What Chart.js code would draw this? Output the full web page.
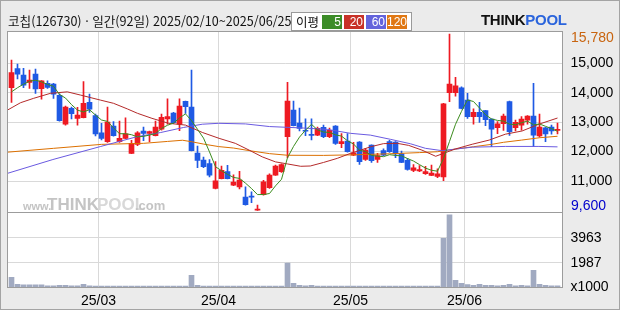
<!DOCTYPE html>
<html lang="ko">
<head>
<meta charset="utf-8">
<title>코칩 일간 차트</title>
<script src="https://cdn.jsdelivr.net/npm/chart.js@4.4.1/dist/chart.umd.min.js"></script>
<style>
    body { margin: 0; background: #ebebeb; }
    #wrap { position: relative; width: 620px; height: 310px; overflow: hidden; background: #ebebeb; }
    #chart { position: absolute; left: 0; top: 0; }
    #frame { position: absolute; left: 0; top: 0; width: 620px; height: 310px; box-sizing: border-box; border: 1px solid #a4a4a4; }
    #title { position: absolute; left: 8px; top: 13px; font: 12.6px "Noto Sans CJK KR", sans-serif; line-height: 16px; color: #111; white-space: nowrap; }
    #legend { position: absolute; left: 291px; top: 12px; width: 121px; height: 19px; box-sizing: border-box; border: 1px solid #9a9a9a; background: #fff; }
    #legend .label { position: absolute; left: 4px; top: 0; font: 12.5px "Noto Sans CJK KR", sans-serif; line-height: 17px; color: #111; }
    #legend .ma { position: absolute; top: 2px; width: 20px; height: 14px; box-sizing: border-box; padding-right: 1px; text-align: right; color: #fff; font: 12px "Liberation Sans", sans-serif; line-height: 14px; }
    #logo { position: absolute; left: 481px; top: 12px; font: bold 15px "Liberation Sans", sans-serif; letter-spacing: -0.3px; line-height: 16px; }
    #logo .think { color: #111; }
    #logo .pool { color: #2a64dc; }
</style>
</head>
<body>
<div id="wrap">
    <canvas id="chart" width="620" height="310"></canvas>
    <div id="title">코칩(126730) · 일간(92일) 2025/02/10~2025/06/25</div>
    <div id="legend">
        <span class="label">이평</span>
        <span class="ma" style="left:30px;background:#3c8c28">5</span>
        <span class="ma" style="left:52px;background:#c83228">20</span>
        <span class="ma" style="left:74px;background:#6464dc">60</span>
        <span class="ma" style="left:95px;background:#e07814">120</span>
    </div>
    <div id="logo"><span class="think">THINK</span><span class="pool">POOL</span></div>
    <div id="frame"></div>
</div>
<script>
// daily candles, index 0 = 2025/02/10, index 91 = 2025/06/25
const opens = [
    14170, 14820, 14600, 14350, 14630, 14140, 14320, 14290, 13910, 12930,
    13470, 13130, 13150, 13670, 13220, 12640, 12340, 12870, 12340, 12450,
    11940, 12240, 12700, 12620, 12540, 12760, 13110, 13310, 12930, 13710,
    13510, 11950, 11710, 11590, 10750, 11080, 11320, 10860, 10800, 10450,
    10480, 10010, 10540, 10770, 11200, 11320, 12510, 13410, 12970, 12720,
    12560, 12560, 12820, 12510, 12870, 12270, 12360, 11880, 12320, 11730,
    12220, 11730, 12030, 12340, 12320, 11920, 11700, 11360, 11340, 11250,
    11190, 11160, 11140, 14000, 14000, 14170, 13750, 13190, 13330, 13390,
    13100, 12810, 12950, 13700, 12810, 12900, 13070, 13210, 12530, 12810,
    12830, 12720
];
const highs = [
    15110, 14970, 14830, 14770, 14800, 14410, 14400, 14320, 13960, 13550,
    13510, 13500, 14380, 13950, 13270, 12960, 13510, 13020, 13040, 13150,
    12380, 12680, 12830, 12700, 13040, 13270, 13790, 13330, 13790, 13720,
    14770, 12190, 11810, 11730, 11660, 11510, 11530, 11210, 11330, 10800,
    10630, 10180, 11020, 11240, 11540, 11580, 14350, 13720, 13480, 13110,
    13110, 12830, 12900, 12800, 12880, 12610, 12610, 12310, 12340, 12110,
    12230, 11940, 12090, 12380, 12340, 12020, 11770, 11560, 11520, 11500,
    11540, 11410, 13640, 15990, 14520, 14200, 13980, 13450, 13670, 13400,
    13110, 13020, 13270, 13720, 13070, 13190, 13220, 14320, 13270, 12820,
    12900, 12970
];
const lows = [
    13670, 14470, 14170, 14150, 13980, 13780, 14150, 13810, 13030, 12900,
    13110, 12900, 13140, 13330, 12530, 12400, 12310, 12520, 12310, 12440,
    11930, 12200, 12370, 12340, 12530, 12730, 12930, 12950, 12710, 13300,
    12020, 11450, 11450, 11140, 10730, 11070, 11070, 10840, 10730, 10180,
    10260, 10000, 10520, 10750, 11190, 11290, 11790, 12870, 12700, 12540,
    12400, 12540, 12470, 12470, 12240, 12130, 11980, 11860, 11560, 11700,
    11630, 11630, 11860, 11970, 11790, 11620, 11370, 11320, 11320, 11220,
    11180, 11110, 11010, 13700, 13880, 13450, 13130, 12930, 12990, 12880,
    12170, 12610, 12720, 12550, 12700, 12730, 12930, 12170, 12490, 12340,
    12590, 12600
];
const closes = [
    14680, 14630, 14260, 14430, 14130, 14400, 14180, 13950, 13050, 13510,
    13290, 13240, 13640, 13440, 12600, 12450, 13000, 12540, 12450, 12600,
    12280, 12640, 12620, 12680, 12830, 13160, 13190, 12980, 13550, 13530,
    12030, 11700, 11490, 11200, 11010, 11360, 11080, 10960, 11030, 10200,
    10450, 10040, 10970, 11200, 11510, 11560, 13720, 12880, 12790, 12690,
    12550, 12790, 12510, 12720, 12280, 12340, 12000, 11960, 11660, 12050,
    11690, 11860, 11880, 12000, 11920, 11630, 11390, 11450, 11390, 11320,
    11270, 11240, 13620, 14290, 14230, 13470, 13190, 13330, 13190, 13080,
    12760, 12940, 13210, 12680, 12990, 13100, 13210, 12560, 12830, 12600,
    12700, 12740
];
// volume, x1000 shares
const volumes = [
    820, 260, 210, 210, 210, 210, 130, 130, 180, 180,
    130, 130, 260, 130, 110, 110, 110, 110, 110, 110,
    110, 110, 110, 110, 110, 110, 110, 110, 110, 110,
    980, 180, 110, 110, 110, 110, 110, 110, 110, 110,
    110, 110, 110, 110, 110, 110, 1950, 340, 180, 130,
    180, 110, 110, 110, 110, 110, 110, 110, 110, 110,
    110, 110, 110, 110, 110, 110, 110, 110, 110, 110,
    110, 110, 3940, 5820, 580, 340, 240, 180, 260, 180,
    180, 130, 180, 260, 130, 180, 130, 1370, 260, 180,
    130, 130
];
// moving averages as drawn on the chart
const ma5 = [
    14030, 14170, 14290, 14390, 14426, 14370, 14281, 14218, 13941, 13818,
    13596, 13408, 13347, 13424, 13240, 13072, 13025, 12805, 12607, 12607,
    12573, 12501, 12517, 12562, 12609, 12786, 12895, 12968, 13142, 13281,
    13054, 12757, 12458, 11988, 11485, 11351, 11226, 11122, 11088, 10927,
    10745, 10539, 10541, 10575, 10836, 11058, 11793, 12174, 12492, 12728,
    12925, 12739, 12664, 12651, 12569, 12526, 12367, 12258, 12045, 12000,
    11870, 11843, 11827, 11895, 11868, 11857, 11764, 11678, 11557, 11437,
    11365, 11333, 11766, 12344, 12927, 13367, 13757, 13701, 13481, 13252,
    13109, 13059, 13034, 12932, 12913, 12981, 13036, 12907, 12938, 12859,
    12780, 12687
];
const ma20 = [
    [-0.67, 13410], [1.5, 13660], [3.7, 13810], [6.5, 13980], [9.3, 14030], [11.5, 13920],
    [14.8, 13750], [17, 13640], [19.3, 13450], [21, 13300], [23.4, 13130], [26.2, 12960],
    [29, 12900], [31.8, 12650], [34.6, 12450], [37.3, 12280], [39.6, 12050], [41.8, 11820],
    [44, 11650], [46, 11580], [48.2, 11500], [49.8, 11510], [52, 11630], [54.3, 11770],
    [56.5, 11940], [58.2, 12050], [59.8, 12160], [62, 12270], [64.3, 12280], [66.2, 12210],
    [68.4, 12050], [70.7, 11840], [72, 11940], [74, 12090], [76.8, 12250], [79.6, 12390],
    [82.3, 12590], [85.1, 12700], [87.9, 12930], [91, 13140]
];
const ma60 = [
    [-0.67, 11260], [6.9, 11730], [14.8, 12170], [21, 12510], [24.8, 12645], [28.7, 12820],
    [31.8, 12930], [34.5, 12960], [39, 12940], [43, 12850], [48.7, 12800], [52.6, 12755],
    [56.5, 12620], [59.8, 12560], [63.2, 12415], [66.5, 12265], [69, 12110], [71.8, 12030],
    [74, 12085], [76.8, 12150], [82.3, 12175], [87.9, 12175], [91, 12160]
];
const ma120 = [
    [-0.67, 11980], [7, 12110], [15, 12245], [22, 12280], [26, 12345], [28.5, 12385],
    [30, 12335], [32, 12255], [34.5, 12170], [37, 12120], [40, 12020], [43, 11930],
    [46, 11875], [52, 11870], [57, 11890], [63, 11925], [68, 11965], [71, 11995],
    [74, 12085], [77, 12165], [80, 12245], [82, 12315], [85, 12390], [88, 12470], [91, 12520]
];
const monthStarts = [15, 35, 57, 76];
const monthLabels = ['25/03', '25/04', '25/05', '25/06'];
const priceTicks = [11000, 12000, 13000, 14000, 15000];
const volumeTicks = [0, 1987, 3963];
const priceHigh = 15780;
const priceLow = 9600;

const upColor = '#ee1a22';
const downColor = '#1f5ae4';
const gridColor = '#d9d9d9';
const tickFont = { family: "'Liberation Sans Narrow', 'Liberation Sans', sans-serif", size: 14 };

function candleColor(ctx) {
    const i = ctx.dataIndex;
    return closes[i] >= opens[i] ? upColor : downColor;
}

function toPoints(pairs) {
    return pairs.map(p => ({ x: p[0], y: p[1] }));
}

function maLine(data, color) {
    return {
        type: 'line', data: data, yAxisID: 'y', borderColor: color, borderWidth: 1,
        pointRadius: 0, tension: 0, fill: false, order: 0
    };
}

// white panes, watermark, pane frames and the max/min labels
const panePlugin = {
    id: 'panes',
    beforeDraw(chart) {
        const { ctx, chartArea } = chart;
        ctx.save();
        ctx.fillStyle = '#ffffff';
        ctx.fillRect(chartArea.left, chartArea.top, chartArea.width, chartArea.height);
        ctx.restore();
    },
    beforeDatasetsDraw(chart) {
        const ctx = chart.ctx;
        const base = chart.scales.y.bottom - 2.5;
        ctx.save();
        ctx.textBaseline = 'alphabetic';
        ctx.fillStyle = '#c4c4c4';
        ctx.font = 'bold 11px "Liberation Sans"';
        ctx.fillText('www.', 23, base);
        ctx.font = 'bold 17px "Liberation Sans Narrow", "Liberation Sans"';
        ctx.fillText('THINK', 47, base);
        ctx.fillStyle = '#d8d8d8';
        ctx.fillText('POOL', 97, base);
        ctx.fillStyle = '#c4c4c4';
        ctx.font = 'bold 13px "Liberation Sans"';
        ctx.fillText('.com', 135, base);
        ctx.restore();
    },
    afterDraw(chart) {
        const { ctx, chartArea } = chart;
        const y = chart.scales.y;
        const split = chart.scales.yv.top;
        ctx.save();
        ctx.strokeStyle = '#9c9c9c';
        ctx.lineWidth = 1;
        ctx.strokeRect(chartArea.left, chartArea.top, chartArea.width, split - chartArea.top);
        ctx.strokeRect(chartArea.left, split, chartArea.width, chartArea.bottom - split);

        ctx.font = "14px 'Liberation Sans Narrow', 'Liberation Sans', sans-serif";
        ctx.textAlign = 'left';
        ctx.textBaseline = 'middle';
        ctx.fillStyle = '#c8640f';
        ctx.fillText(priceHigh.toLocaleString('en-US'), y.right - 49, y.getPixelForValue(priceHigh) - 2);
        ctx.fillStyle = '#0000cc';
        ctx.fillText(priceLow.toLocaleString('en-US'), y.right - 49, y.bottom - 6);
        ctx.restore();
    }
};

function drawChart() {
    const ctx = document.getElementById('chart').getContext('2d');
    new Chart(ctx, {
        type: 'bar',
        data: {
            datasets: [
                maLine(ma5.map((v, i) => ({ x: i, y: v })), '#3c8c1e'),
                maLine(toPoints(ma20), '#b42a2a'),
                maLine(toPoints(ma60), '#6a5ae0'),
                maLine(toPoints(ma120), '#dc7000'),
                {
                    // candle bodies
                    data: opens.map((o, i) => ({ x: i, y: [o, closes[i]] })),
                    yAxisID: 'y', backgroundColor: candleColor, grouped: false,
                    barThickness: 5, maxBarThickness: 5, minBarLength: 1, order: 1
                },
                {
                    // wicks
                    data: lows.map((l, i) => ({ x: i, y: [l, highs[i]] })),
                    yAxisID: 'y', backgroundColor: candleColor, grouped: false,
                    barThickness: 1, maxBarThickness: 1, minBarLength: 1, order: 2
                },
                {
                    data: volumes.map((v, i) => ({ x: i, y: v })),
                    yAxisID: 'yv', backgroundColor: '#a1aac1', grouped: false,
                    barThickness: 5, maxBarThickness: 5, order: 3
                }
            ]
        },
        options: {
            responsive: false,
            animation: false,
            events: [],
            layout: { padding: { left: 7.5, top: 31.5, right: 0, bottom: 0 } },
            plugins: { legend: { display: false }, tooltip: { enabled: false } },
            scales: {
                x: {
                    type: 'linear', min: -2 / 3, max: 91 + 5 / 6, offset: false,
                    grid: { color: gridColor, drawTicks: false, offset: false },
                    border: { display: false },
                    ticks: {
                        autoSkip: false, maxRotation: 0, padding: 5, color: '#000',
                        font: { family: "'Liberation Sans', sans-serif", size: 14 },
                        callback: (value, index) => monthLabels[index]
                    },
                    afterBuildTicks: scale => { scale.ticks = monthStarts.map(m => ({ value: m - 0.5 })); },
                    afterFit: scale => { scale.height = 22.5; }
                },
                y: {
                    position: 'right', stack: 'pane', stackWeight: 181,
                    min: 9930, max: 16080,
                    grid: { color: gridColor, drawTicks: false },
                    border: { display: false },
                    ticks: { padding: 8, color: '#000', font: tickFont, callback: v => v.toLocaleString('en-US') },
                    afterBuildTicks: scale => { scale.ticks = priceTicks.map(v => ({ value: v })); },
                    afterFit: scale => { scale.width = 57.5; }
                },
                yv: {
                    position: 'right', stack: 'pane', stackWeight: 75,
                    min: 0, max: 6000,
                    grid: { color: c => (c.tick && c.tick.value === 0 ? 'rgba(0,0,0,0)' : gridColor), drawTicks: false },
                    border: { display: false },
                    ticks: { padding: 8, color: '#000', font: tickFont, callback: v => (v === 0 ? 'x1000' : String(v)) },
                    afterBuildTicks: scale => { scale.ticks = volumeTicks.map(v => ({ value: v })); },
                    afterFit: scale => { scale.width = 57.5; }
                }
            }
        },
        plugins: [panePlugin]
    });
}

window.onload = function() {
    drawChart();
};
</script>
</body>
</html>
